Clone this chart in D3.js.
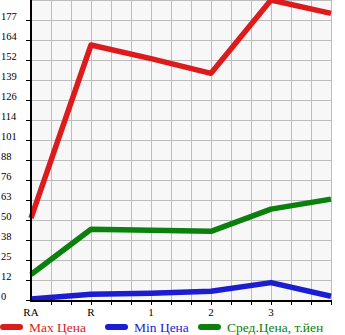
<!DOCTYPE html>
<html>
<head>
<meta charset="utf-8">
<script src="https://cdn.jsdelivr.net/npm/d3@7"></script>
<style>
  body { margin: 0; background: #fff; }
  svg { display: block; font-family: "Liberation Serif", "DejaVu Serif", serif; }
</style>
</head>
<body>
<div id="chart"></div>
<script>
const categories = ["RA", "R", "1", "2", "3", ""];
const maxPrice = [52.3, 161.6, 153, 143.7, 190, 181.6];
const minPrice = [1.2, 4.2, 4.9, 6.1, 11.6, 3];
const avgPrice = [16.7, 45.3, 44.6, 44, 58, 64.3];
const yTickLabels = ["0", "12", "25", "38", "50", "63", "76", "88", "101", "114", "126", "139", "152", "164", "177"];
const yStep = 12.625;
const seriesNames = ["Max Цена", "Min Цена", "Сред.Цена, т.йен"];
const colors = ["#dc1c1c", "#1c1cd2", "#0c800c"];

const W = 345, H = 335;
const plot = {left: 31, right: 331, top: 1, bottom: 301};
const yMax = yStep * yTickLabels.length;

const svg = d3.select("#chart").append("svg")
    .attr("width", W).attr("height", H);

const x = d3.scalePoint().domain(d3.range(categories.length)).range([plot.left, plot.right]);
const y = d3.scaleLinear().domain([0, yMax]).range([plot.bottom, plot.top]);

// plot background
svg.append("rect")
    .attr("x", plot.left).attr("y", 0)
    .attr("width", plot.right - plot.left).attr("height", plot.bottom)
    .attr("fill", "#f7f7f7");

// grid
const grid = svg.append("g").attr("stroke", "#bdbdbd").attr("stroke-width", 1);
d3.range(plot.left + 20, plot.right + 1, 20).forEach(gx => {
  grid.append("line").attr("x1", gx + 0.5).attr("x2", gx + 0.5).attr("y1", 0).attr("y2", plot.bottom);
});
d3.range(0, yTickLabels.length + 1).forEach(i => {
  const gy = Math.round(y(i * yStep)) - 0.5;
  grid.append("line").attr("x1", plot.left).attr("x2", plot.right).attr("y1", gy).attr("y2", gy);
});

// lines
const series = [maxPrice, minPrice, avgPrice];
const line = d3.line().x((d, i) => x(i)).y(d => y(d));
svg.append("clipPath").attr("id", "clip").append("rect")
    .attr("x", 0).attr("y", 0).attr("width", W).attr("height", plot.bottom + 4);
series.forEach((s, k) => {
  svg.append("path")
      .attr("clip-path", "url(#clip)")
      .attr("d", line(s))
      .attr("fill", "none")
      .attr("stroke", colors[k])
      .attr("stroke-width", 5.5)
      .attr("stroke-linejoin", "round");
});

// y axis
const yAxis = svg.append("g");
yAxis.append("line").attr("x1", plot.left).attr("x2", plot.left).attr("y1", 0).attr("y2", plot.bottom + 1)
    .attr("stroke", "#000").attr("stroke-width", 2);
yTickLabels.forEach((lab, i) => {
  const ty = Math.round(y(i * yStep)) - 0.5;
  yAxis.append("line").attr("x1", plot.left - 5).attr("x2", plot.left).attr("y1", ty).attr("y2", ty)
      .attr("stroke", "#000");
  yAxis.append("text").attr("x", 1).attr("y", ty - 1)
      .attr("font-size", 10.5).attr("fill", "#000")
      .text(lab);
});

// x axis
const xAxis = svg.append("g");
xAxis.append("line").attr("x1", plot.left - 1).attr("x2", plot.right + 1).attr("y1", plot.bottom).attr("y2", plot.bottom)
    .attr("stroke", "#000").attr("stroke-width", 2);
d3.range(plot.left + 20, plot.right + 1, 20).forEach(tx => {
  xAxis.append("line").attr("x1", tx + 0.5).attr("x2", tx + 0.5).attr("y1", plot.bottom).attr("y2", plot.bottom + 4)
      .attr("stroke", "#000");
});
categories.forEach((c, i) => {
  xAxis.append("text").attr("x", x(i)).attr("y", plot.bottom + 15)
      .attr("text-anchor", "middle").attr("font-size", 11).text(c);
});

// legend
const legendX = [0, 105, 198];
seriesNames.forEach((n, k) => {
  const g = svg.append("g").attr("transform", `translate(${legendX[k]},0)`);
  g.append("line").attr("x1", 3).attr("x2", 20).attr("y1", 327).attr("y2", 327)
      .attr("stroke", colors[k]).attr("stroke-width", 6).attr("stroke-linecap", "round");
  g.append("text").attr("x", 29).attr("y", 332)
      .attr("font-size", 13.5).attr("fill", colors[k]).text(n);
});
</script>
</body>
</html>
